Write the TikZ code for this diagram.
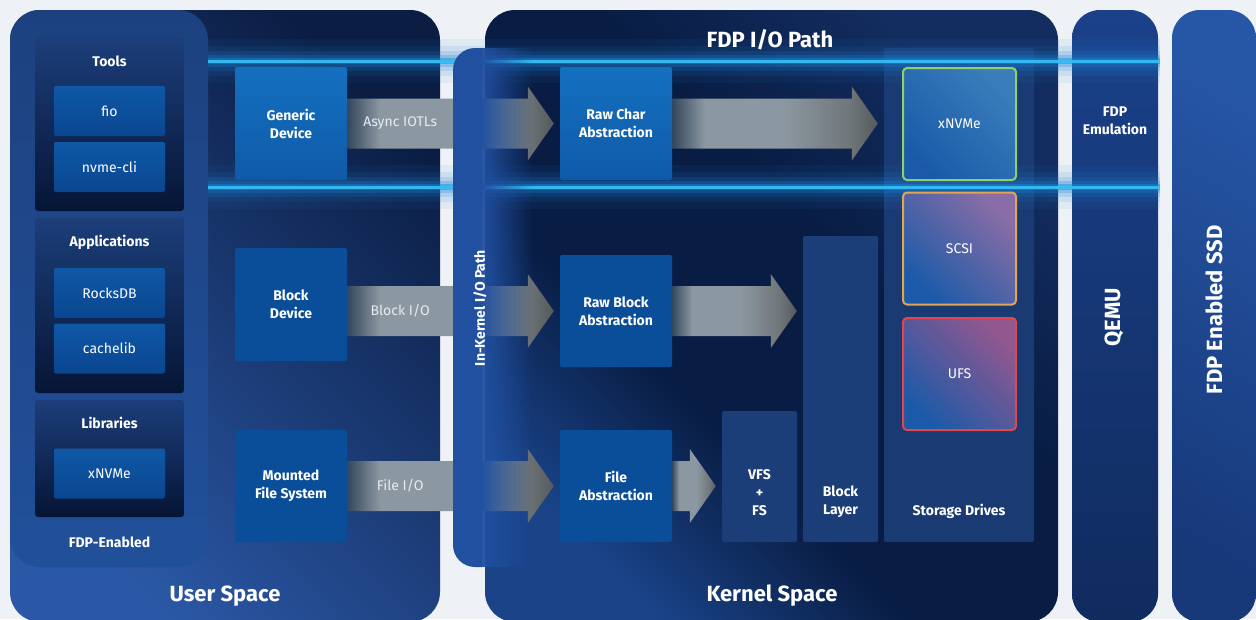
\documentclass[tikz,border=0pt]{standalone}
\usepackage{fontspec}
\setmainfont{Fira Sans}
\usepackage{xcolor}
\usepackage{tikz}
\usetikzlibrary{calc}

\definecolor{pagebg}{HTML}{EEF1F5}
\definecolor{userlo}{HTML}{2B58A6}
\definecolor{userhi}{HTML}{0B1D43}
\definecolor{kernlo}{HTML}{1A4388}
\definecolor{kernmid}{HTML}{091D44}
\definecolor{kernhi}{HTML}{132D60}
\definecolor{qemutop}{HTML}{1B418A}
\definecolor{qemubot}{HTML}{102B5E}
\definecolor{ssdtop}{HTML}{2656A6}
\definecolor{ssdbot}{HTML}{17397A}
\definecolor{fdptop}{HTML}{1D417F}
\definecolor{fdpbot}{HTML}{21509A}
\definecolor{grptop}{HTML}{1C3E7A}
\definecolor{grpbot}{HTML}{061535}
\definecolor{boxtop}{HTML}{1470BF}
\definecolor{boxmid}{HTML}{0B519E}
\definecolor{boxbot}{HTML}{0F5AA8}
\definecolor{boxflat}{HTML}{0A4D98}
\definecolor{smalltop}{HTML}{0E58A6}
\definecolor{smallbot}{HTML}{0B4690}
\definecolor{layercol}{HTML}{1B3D78}
\definecolor{drvcol}{HTML}{1A3A73}
\definecolor{glowcol}{HTML}{35BDF4}
\definecolor{halocol}{HTML}{1E86D8}
\definecolor{inkcol}{HTML}{2150A0}
\definecolor{arrlo}{HTML}{34475D}
\definecolor{arrhi}{HTML}{8C98A1}
\definecolor{arrmid}{HTML}{70767A}
\definecolor{arrend}{HTML}{55595C}
\definecolor{lbltext}{HTML}{E4EBF3}
\definecolor{nvmeedge}{HTML}{8ED16A}
\definecolor{scsiedge}{HTML}{E3A552}
\definecolor{ufsedge}{HTML}{E0474A}
\definecolor{drvblue}{HTML}{0E56A6}
\definecolor{drvlow}{HTML}{1A5AA8}
\definecolor{nvmetint}{HTML}{3A7DBA}
\definecolor{scsitint}{HTML}{8A6DA6}
\definecolor{ufstint}{HTML}{93578F}

\pgfdeclarehorizontalshading{fatgrey}{100bp}{color(0bp)=(arrlo); color(25bp)=(arrlo);
  color(33bp)=(arrhi); color(52bp)=(arrhi); color(68bp)=(arrmid); color(75bp)=(arrend);
  color(100bp)=(arrend)}
\pgfdeclareverticalshading{kernshade}{100bp}{color(0bp)=(kernlo); color(25bp)=(kernlo);
  color(40bp)=(kernmid); color(58bp)=(kernmid); color(75bp)=(kernhi); color(100bp)=(kernhi)}

\newcommand{\fatarrow}[2]{%
  \shade[shading=fatgrey] ($#1+(0,-25)$) -- ($#2+(-26,-25)$) -- ($#2+(-26,-37)$) -- #2
    -- ($#2+(-26,37)$) -- ($#2+(-26,25)$) -- ($#1+(0,25)$) -- cycle;}

\begin{document}
\begin{tikzpicture}[x=1pt, y=-1pt,
  hd/.style={text=white, font=\fontsize{14}{18}\selectfont\bfseries, align=center},
  rg/.style={text=lbltext, font=\fontsize{14}{18}\selectfont, align=center},
  big/.style={text=white, font=\fontsize{22}{26}\selectfont\bfseries},
  grp/.style={minimum width=149pt, rounded corners=3pt, inner sep=0pt,
    top color=grptop, bottom color=grpbot},
  swbox/.style={rg, text=white, minimum width=111pt, minimum height=50pt, rounded corners=2pt,
    top color=smalltop, bottom color=smallbot},
  iobox/.style={hd, minimum width=112pt, minimum height=113pt, rounded corners=2pt,
    inner sep=0pt, top color=boxtop, middle color=boxmid, bottom color=boxbot},
  flatbox/.style={hd, minimum width=112pt, minimum height=113pt, rounded corners=2pt,
    inner sep=0pt, fill=boxflat},
  layer/.style={fill=layercol, minimum width=75pt, rounded corners=2pt, inner sep=0pt},
  drv/.style 2 args={rg, text=white, minimum width=113pt, minimum height=112pt,
    rounded corners=4pt, line width=2pt, draw=#1, bottom color=drvlow,
    middle color=drvblue, top color=#2, shading angle=-45}]

  \useasboundingbox (0,0) rectangle (1256,619);
  \fill[pagebg] (0,0) rectangle (1256,619);

  % main panels
  \shade[rounded corners=30pt, top color=userhi, bottom color=userlo, shading angle=-45]
    (10,10) rectangle (440,622);
  \shade[rounded corners=30pt, shading=kernshade, shading angle=-45]
    (485,10) rectangle (1058,622);
  \shade[rounded corners=28pt, top color=qemutop, bottom color=qemubot]
    (1072,10) rectangle (1158,622);
  \shade[rounded corners=28pt, top color=ssdtop, bottom color=ssdbot, shading angle=-30]
    (1172,10) rectangle (1256,622);
  \shade[rounded corners=30pt, top color=fdptop, bottom color=fdpbot]
    (10,10) rectangle (208,567);

  % kernel side layers
  \node[fill=drvcol, minimum width=150pt, minimum height=494pt, rounded corners=2pt] (drives) at (959,295) {};
  \node[layer, minimum height=131pt] (vfs) at (759.5,476.5) {};
  \node[layer, minimum height=306pt] (blklayer) at (840.5,389) {};

  % glow lines
  \foreach \gy in {61,187} {
    \foreach \w/\op in {44/0.07, 30/0.10, 20/0.16, 12/0.25, 6/0.45}
      \draw[halocol, line width=\w pt, opacity=\op] (208,\gy) -- (1160,\gy);
    \draw[glowcol, line width=3pt, opacity=0.95] (208,\gy) -- (1160,\gy);
  }

  % user space boxes
  \node[iobox] (gendev) at (291,123.5) {Generic\\Device};
  \node[flatbox] (blkdev) at (291,304.5) {Block\\Device};
  \node[flatbox, minimum height=112pt] (mntfs) at (291,486) {Mounted\\File System};

  % kernel boxes
  \node[iobox] (rawchar) at (616,123.5) {Raw Char\\Abstraction};
  \node[flatbox, minimum height=112pt] (rawblk) at (616,311) {Raw Block\\Abstraction};
  \node[flatbox, minimum height=112pt] (fileabs) at (616,486) {File\\Abstraction};

  % arrows
  \coordinate (t1) at ($(rawchar.west)+(-6,0)$);
  \coordinate (t2) at ($(rawblk.west)+(-6,0)$);
  \coordinate (t3) at ($(fileabs.west)+(-6,0)$);
  \coordinate (t4) at ($(drives.west |- rawchar.east)+(-6,0)$);
  \coordinate (t5) at ($(blklayer.west |- rawblk.east)+(-6,0)$);
  \coordinate (t6) at ($(vfs.west |- fileabs.east)+(-6,0)$);
  \fatarrow{(gendev.east |- t1)}{(t1)}
  \fatarrow{(blkdev.east |- t2)}{(t2)}
  \fatarrow{(mntfs.east |- t3)}{(t3)}
  \fatarrow{(rawchar.east)}{(t4)}
  \fatarrow{(rawblk.east)}{(t5)}
  \fatarrow{(fileabs.east)}{(t6)}
  \node[rg] (asyncT) at ($(gendev.east |- t1)+(53,0)$) {Async IOTLs};
  \node[rg] (blkioT) at ($(blkdev.east |- t2)+(53,0)$) {Block I/O};
  \node[rg] (fileioT) at ($(mntfs.east |- t3)+(53,0)$) {File I/O};

  % in-kernel path, opaque on the left and fading out to the right
  \fill[inkcol] (482,48) [rounded corners=22pt] -- (453,48) -- (453,567) [sharp corners] -- (482,567) -- cycle;
  \foreach \i in {0,...,19}
    \fill[inkcol, opacity={0.95-\i*0.048}] ({482+\i*2.5},48) rectangle ({484.5+\i*2.5},567);
  \node[hd, rotate=90] (inkT) at (480,308) {In-Kernel I/O Path};

  % FDP-enabled software
  \node[grp, minimum height=174pt] (tools) at (109.5,124) {};
  \node[grp, minimum height=175pt] (apps) at (109.5,305.5) {};
  \node[grp, minimum height=117pt] (libs) at (109.5,458.5) {};
  \node[hd] (toolsT) at (109.5,61) {Tools};
  \node[hd] (appsT) at (109.5,242) {Applications};
  \node[hd] (libsT) at (109.5,423) {Libraries};
  \node[hd] (fdpT) at (109.5,542) {FDP-Enabled};
  \node[swbox] (fio) at (109.5,111) {fio};
  \node[swbox] (nvmecli) at (109.5,167) {nvme-cli};
  \node[swbox] (rocks) at (109.5,293) {RocksDB};
  \node[swbox] (cache) at (109.5,348.5) {cachelib};
  \node[swbox] (libx) at (109.5,473.5) {xNVMe};

  % layer texts
  \node[hd] (vfsT) at (759.5,493) {VFS\\+\\FS};
  \node[hd] (blklayerT) at (840.5,502) {Block\\Layer};
  \node[hd] (drivesT) at (959,511) {Storage Drives};

  % storage drives
  \node[drv={nvmeedge}{nvmetint}] (xnvme) at (959.5,124) {xNVMe};
  \node[drv={scsiedge}{scsitint}] (scsi) at (959.5,248.5) {SCSI};
  \node[drv={ufsedge}{ufstint}] (ufs) at (959.5,374) {UFS};

  % titles
  \node[big] (pathT) at (770,40) {FDP I/O Path};
  \node[big] (userT) at (225,596) {User Space};
  \node[big] (kernT) at (772,596) {Kernel Space};
  \node[hd] (emuT) at (1115,121) {FDP\\Emulation};
  \node[big, rotate=90] (qemuT) at (1114,317) {QEMU};
  \node[big, rotate=90] (ssdT) at (1214,310) {FDP Enabled SSD};
\end{tikzpicture}
\end{document}
